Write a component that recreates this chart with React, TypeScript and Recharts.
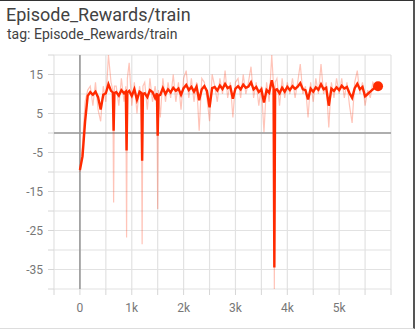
import React from "react";
import { LineChart, Line, CartesianGrid, XAxis, YAxis, ReferenceLine } from "recharts";

const steps = [
  0, 50, 100, 150, 200, 250, 300, 350, 400, 450, 500, 550, 600, 635, 650, 665, 700, 750, 800, 850, 885, 900, 915, 950,
  1000, 1050, 1100, 1150, 1185, 1200, 1215, 1250, 1300, 1350, 1400, 1450, 1485, 1500, 1515, 1550, 1600, 1650, 1700, 1750, 1800, 1850, 1900, 1950,
  2000, 2050, 2100, 2150, 2200, 2250, 2300, 2350, 2400, 2450, 2500, 2550, 2600, 2650, 2700, 2750, 2800, 2850, 2900, 2950,
  3000, 3050, 3100, 3150, 3200, 3250, 3300, 3350, 3400, 3450, 3500, 3550, 3600, 3650, 3700, 3735, 3750, 3765, 3800, 3850, 3900, 3950,
  4000, 4050, 4100, 4150, 4200, 4250, 4300, 4350, 4400, 4450, 4500, 4550, 4600, 4650, 4700, 4750, 4800, 4850, 4900, 4950,
  5000, 5050, 5100, 5150, 5200, 5250, 5300, 5350, 5400, 5450, 5500, 5550, 5600, 5650, 5700, 5750,
];

const smoothed = [
  -9.5, -6, 3, 9.5, 10.5, 9.8, 10.6, 9.2, 6.0, 9.8, 10.2, 12.5, 10.8, 10.4, 0.6, 10.2, 10.5, 9.6, 11, 10.2, 10.6, -4.5, 10.4, 10.8,
  9.5, 11.2, 8.5, 10.6, 10.3, -7.1, 10.0, 10.2, 9.2, 11, 10.5, 9.0, 10.2, -0.7, 9.6, 9.8, 11.5, 10, 11.2, 10.4, 11.6, 10.8, 11.4, 9.8,
  11.5, 12.3, 11, 11.8, 10.6, 11.9, 8.4, 11.2, 12, 10.8, 6.6, 11.5, 11.8, 10.9, 12.2, 11.3, 12.6, 11.5, 11.9, 8.8,
  11.4, 12.0, 11.2, 12.4, 11.6, 11.9, 13.0, 11.2, 11.8, 10.5, 11.2, 7.8, 11.0, 10.3, 13.5, 11.5, -34.5, 11.0, 11.2, 10.2, 11.6, 10.6,
  11.8, 11.0, 12.0, 11.3, 11.9, 12.8, 11.2, 11.0, 8.6, 11.4, 10.6, 11.7, 11.1, 12.5, 11.2, 11.6, 7.0, 11.4, 10.8, 11.7,
  11.0, 12.1, 11.4, 11.8, 10.2, 9.0, 11.5, 12.6, 11.2, 11.8, 9.4, 10.0, 10.6, 11.2, 11.8, 12.0,
];

const raw = [
  -10, -3, 8, 11, 12, 7, 13, 6, 3, 12, 8, 20, 13, 11, -17.8, 12, 12, 7, 14, 8, 12, -26.8, 14, 18,
  7, 13, 5, 12, 9, -28.5, 12, 13, 6, 14, 8, 12, 9, -19.5, 11, 4, 14, 8, 13, 9, 15, 8, 13, 6,
  14, 16, 9, 14, 8, 13, 0.6, 14, 13, 9, 3, 15, 12, 8, 14, 10, 16, 9, 13, 4,
  13, 14, 9, 15, 10, 13, 17, 9, 13, 7, 12, 0.2, 13, 8, 20, 12, -40, 13, 14, 7, 14, 9,
  13, 10, 14, 9, 13, 17.7, 10, 12, 4, 13, 8, 14, 10, 17.7, 10, 13, 1.4, 13, 9, 14,
  10, 14, 9, 13, 7, 2.6, 13, 16, 10, 13, 7, 11, 9, 13, 12, 12,
];

const xTicks = [-500, 0, 500, 1000, 1500, 2000, 2500, 3000, 3500, 4000, 4500, 5000, 5500, 6000];
const xLabels = ["0", "1k", "2k", "3k", "4k", "5k"];
const yTicks = [-40, -35, -30, -25, -20, -15, -10, -5, 0, 5, 10, 15, 20];
const yLabels = ["15", "5", "-5", "-15", "-25", "-35"];

const data = steps.map((s, i) => ({ step: s, smoothed: smoothed[i], raw: raw[i] }));

const lineColor = "#ff2a00";

export default function App() {
  const last = data.length - 1;
  return (
    <div
      style={{
        position: "fixed",
        left: 0,
        top: 0,
        width: 415,
        height: 329,
        boxSizing: "border-box",
        background: "#fff",
        borderTop: "1px solid #333",
        borderRight: "2px solid #555",
        borderBottom: "1px solid #ddd",
        fontFamily: "Roboto, sans-serif",
        overflow: "hidden",
      }}
    >
      <div style={{ position: "absolute", left: 6, top: 3, fontSize: 18, color: "#424242" }}>
        Episode_Rewards/train
      </div>
      <div style={{ position: "absolute", left: 7, top: 25, fontSize: 14, color: "#424242" }}>
        tag: Episode_Rewards/train
      </div>
      <div style={{ position: "absolute", left: 0, top: -1 }}>
        <LineChart width={415} height={329} data={data} margin={{ top: 55, right: 24, bottom: 10, left: 0 }}>
          <CartesianGrid stroke="#e2e2e2" strokeWidth={1.2} />
          <XAxis
            dataKey="step"
            type="number"
            domain={[-500, 6000]}
            ticks={xTicks}
            interval={0}
            height={30}
            axisLine={false}
            tickSize={6}
            tickMargin={8}
            tickLine={{ stroke: "#d6d6d6" }}
            tick={{ fontSize: 12, fill: "#777" }}
            tickFormatter={(v: number) => {
              const l = v % 1000 === 0 && v >= 0 ? (v === 0 ? "0" : v / 1000 + "k") : "";
              return xLabels.includes(l) ? l : "";
            }}
          />
          <YAxis
            type="number"
            domain={[-40, 20]}
            ticks={yTicks}
            interval={0}
            width={54}
            axisLine={false}
            tickSize={6}
            tickMargin={5}
            tickLine={{ stroke: "#d6d6d6" }}
            tick={{ fontSize: 12, fill: "#777" }}
            tickFormatter={(v: number) => (yLabels.includes(String(v)) ? String(v) : "")}
          />
          <ReferenceLine y={0} stroke="#999" strokeWidth={1.6} />
          <ReferenceLine x={0} stroke="#999" strokeWidth={1.6} />
          <Line
            dataKey="raw"
            stroke={lineColor}
            strokeOpacity={0.28}
            strokeWidth={1.2}
            dot={false}
            isAnimationActive={false}
          />
          <Line
            dataKey="smoothed"
            stroke={lineColor}
            strokeWidth={2.4}
            dot={(p: any) =>
              p.index === last ? (
                <circle key="end" cx={p.cx} cy={p.cy} r={5} fill={lineColor} />
              ) : (
                <g key={p.index} />
              )
            }
            isAnimationActive={false}
          />
        </LineChart>
      </div>
    </div>
  );
}
